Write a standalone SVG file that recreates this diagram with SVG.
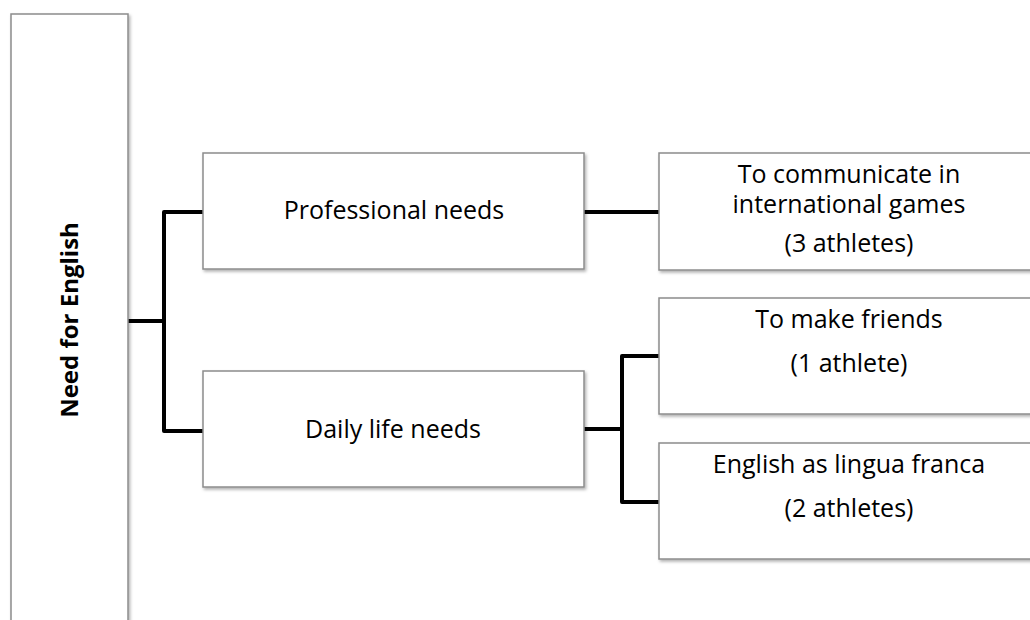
<svg xmlns="http://www.w3.org/2000/svg" width="1030" height="620" viewBox="0 0 1030 620">
<defs>
<filter id="sh" x="-5%" y="-5%" width="115%" height="115%">
<feDropShadow dx="1.5" dy="2" stdDeviation="1.5" flood-color="#000" flood-opacity="0.3"/>
</filter>
</defs>
<style>
.box{fill:#fff;stroke:#8c8c8c;stroke-width:1.5;filter:url(#sh)}
.t{font-family:"Open Sans","Liberation Sans",sans-serif;font-size:25px;fill:#000;text-anchor:middle}
.c{fill:none;stroke:#000;stroke-width:4;stroke-linejoin:round}
</style>
<rect width="1030" height="620" fill="#fff"/>
<g id="connectors">
<path class="c" d="M128,321 H164 M203,212 H164 V431 H203"/>
<path class="c" d="M584,212 H659"/>
<path class="c" d="M584,429 H622 M659,356 H622 V502 H659"/>
</g>
<g id="need-for-english">
<rect class="box" x="11" y="14" width="117" height="620"/>
<text class="t" transform="translate(78,320) rotate(-90)" style="font-weight:bold;font-size:24px">Need for English</text>
</g>
<g id="professional-needs">
<rect class="box" x="203" y="153" width="381" height="116"/>
<text class="t" x="394" y="219">Professional needs</text>
</g>
<g id="daily-life-needs">
<rect class="box" x="203" y="371" width="381" height="116"/>
<text class="t" x="393" y="438">Daily life needs</text>
</g>
<g id="communicate">
<rect class="box" x="659" y="153" width="390" height="117"/>
<text class="t"><tspan x="849" y="183">To communicate in</tspan><tspan x="849" y="213">international games</tspan><tspan x="849" y="252">(3 athletes)</tspan></text>
</g>
<g id="friends">
<rect class="box" x="659" y="298" width="390" height="116"/>
<text class="t"><tspan x="849" y="328">To make friends</tspan><tspan x="849" y="372">(1 athlete)</tspan></text>
</g>
<g id="lingua-franca">
<rect class="box" x="659" y="443" width="390" height="116"/>
<text class="t"><tspan x="849" y="473">English as lingua franca</tspan><tspan x="849" y="517">(2 athletes)</tspan></text>
</g>
</svg>
